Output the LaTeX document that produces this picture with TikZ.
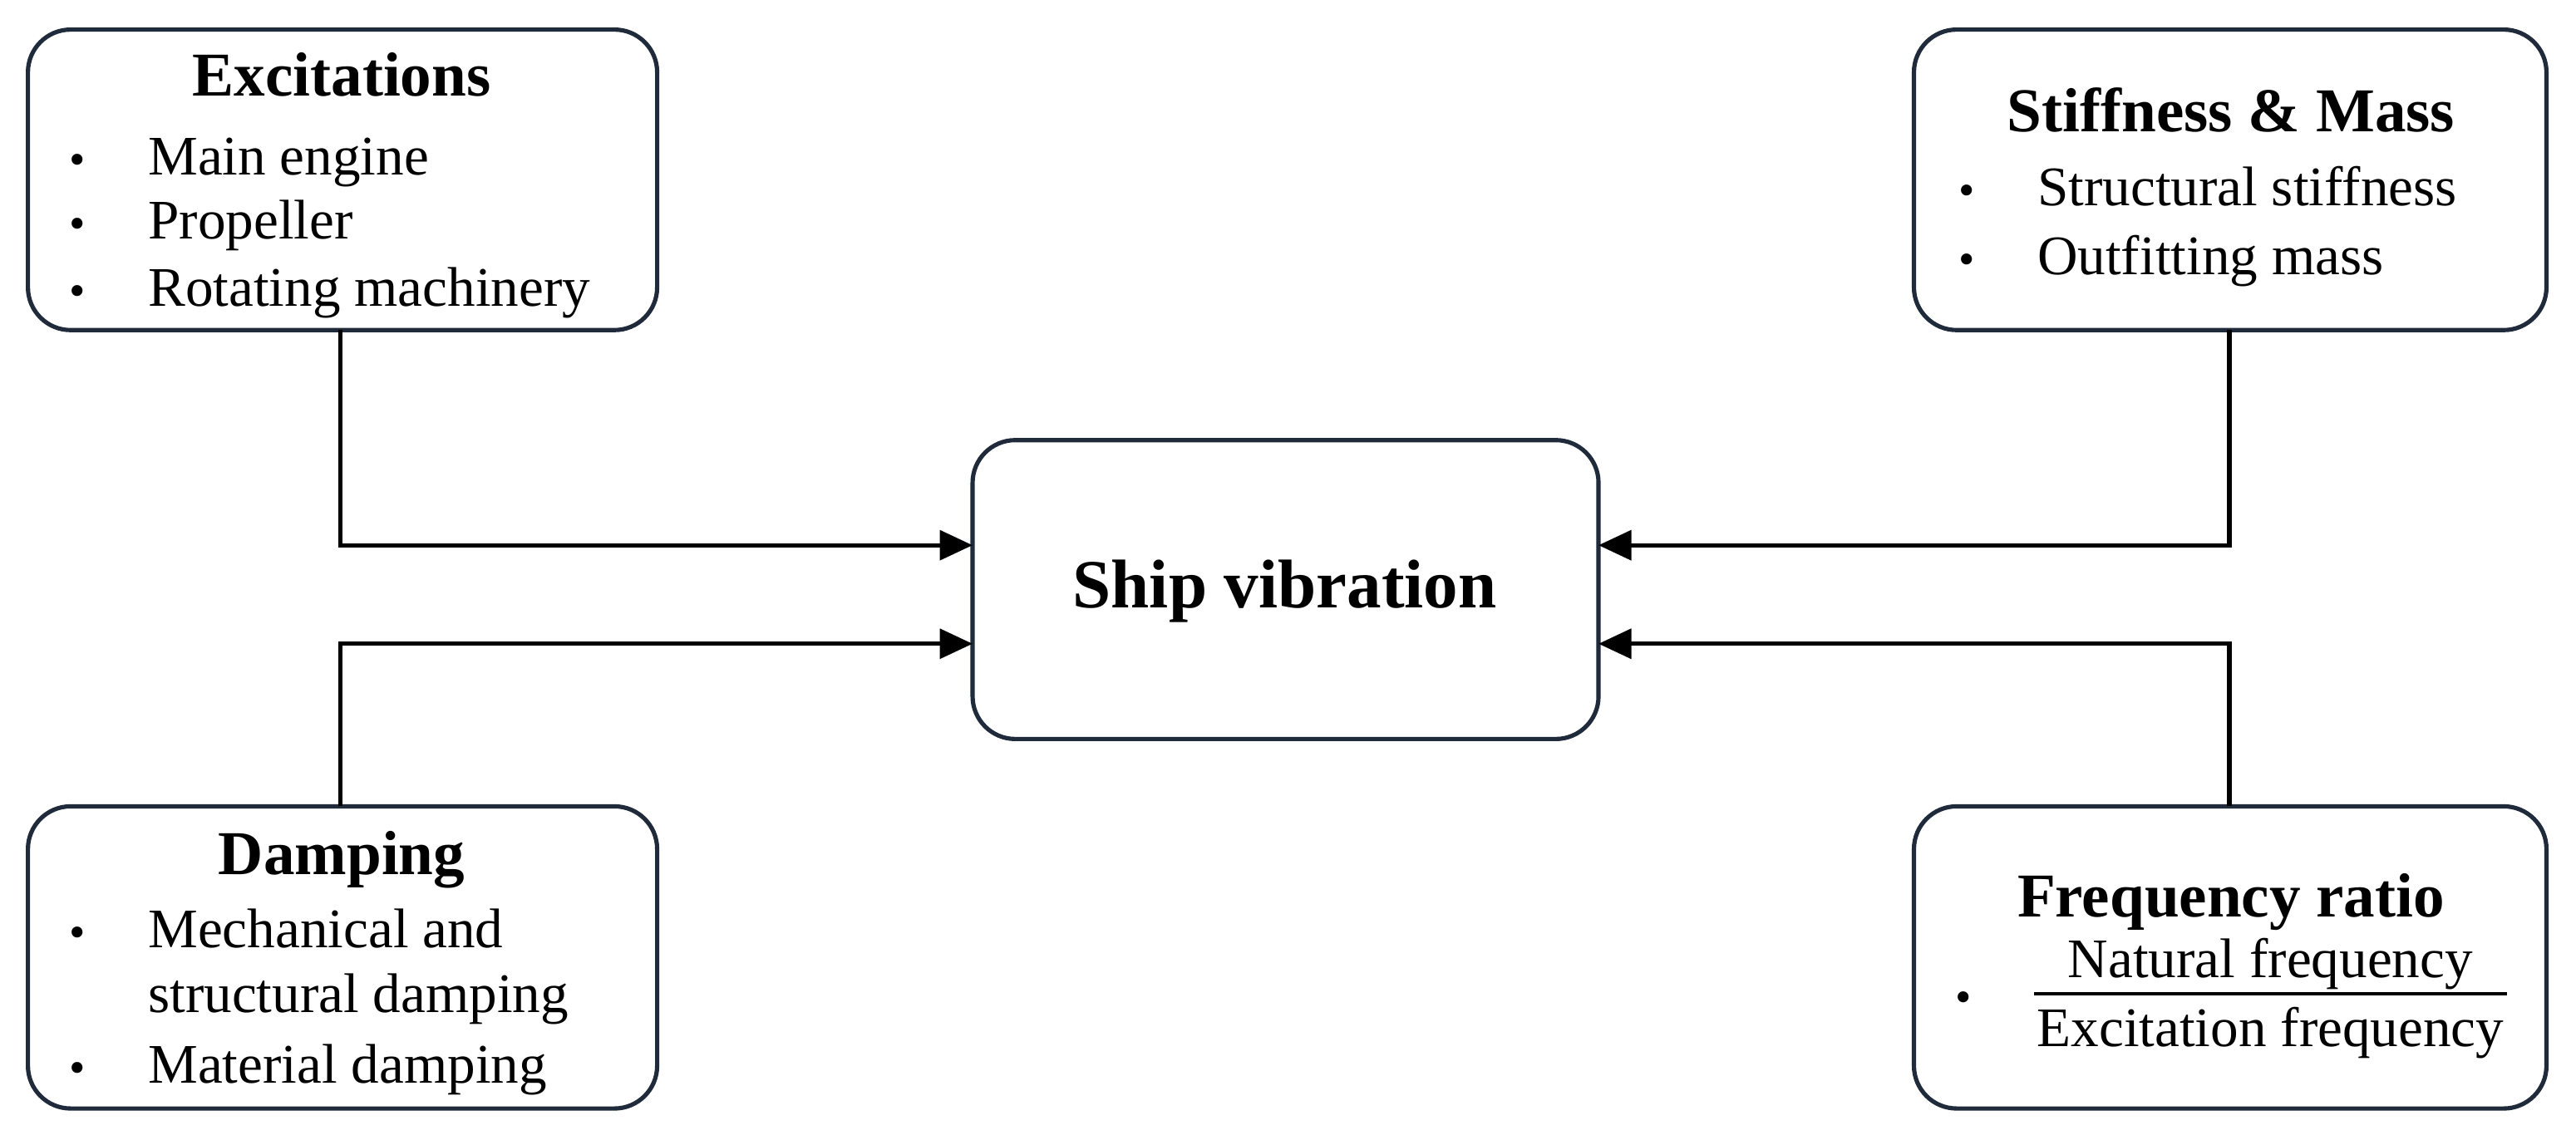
\documentclass[tikz,border=0pt]{standalone}
\usepackage{fontspec}
\setmainfont{Liberation Serif}
\usetikzlibrary{arrows.meta}
\definecolor{bordc}{HTML}{1F2A3A}
\begin{document}
\begin{tikzpicture}[x=1pt,y=-1pt,
  box/.style={draw=bordc,line width=2.6pt,rounded corners=26pt},
  ttl/.style={anchor=mid,font=\fontsize{38}{44}\selectfont\bfseries},
  itm/.style={anchor=mid west,inner sep=0pt,font=\fontsize{34}{40}\selectfont},
  bul/.style={anchor=mid,inner sep=0pt,font=\fontsize{28}{32}\selectfont},
  conn/.style={line width=2.6pt,-{Triangle[length=20pt,width=18pt]}}]
\useasboundingbox (0,0) rectangle (1568,694);
\begin{scope}[yshift=-8pt]
\end{scope}
% boxes
\draw[box] (17,18) rectangle (400,201);
\draw[box] (1165,18) rectangle (1550,201);
\draw[box] (592,268) rectangle (973,450);
\draw[box] (17,491) rectangle (400,675);
\draw[box] (1165,491) rectangle (1550,675);
\coordinate (exB) at (207,201);
\coordinate (stB) at (1357,201);
\coordinate (daT) at (207,491);
\coordinate (frT) at (1357,491);
\coordinate (cL1) at (592,332);
\coordinate (cL2) at (592,392);
\coordinate (cR1) at (973,332);
\coordinate (cR2) at (973,392);
% texts
\node[ttl] (t1) at (208,56) {Excitations};
\node[bul] (b11) at (47,104) {•}; \node[itm] (i11) at (90,104) {Main engine};
\node[bul] (b12) at (47,143) {•}; \node[itm] (i12) at (90,143) {Propeller};
\node[bul] (b13) at (47,184) {•}; \node[itm] (i13) at (90,184) {Rotating machinery};
\node[ttl] (t2) at (1358,78) {Stiffness \& Mass};
\node[bul] (b21) at (1197,123) {•}; \node[itm] (i21) at (1240,123) {Structural stiffness};
\node[bul] (b22) at (1197,165) {•}; \node[itm] (i22) at (1240,165) {Outfitting mass};
\node[anchor=mid,font=\fontsize{42}{48}\selectfont\bfseries] (c) at (782,368) {Ship vibration};
\node[ttl] (t3) at (208,530) {Damping};
\node[bul] (b31) at (47,575) {•}; \node[itm] (i31) at (90,575) {Mechanical and};
\node[itm] (i32) at (90,614) {structural damping};
\node[bul] (b33) at (47,657) {•}; \node[itm] (i33) at (90,657) {Material damping};
\node[ttl] (t4) at (1358,556) {Frequency ratio};
\node[bul] (b41) at (1195,614) {•};
\node[anchor=mid,inner sep=0pt,font=\fontsize{34}{40}\selectfont] (fn) at (1382,593) {Natural frequency};
\node[anchor=mid,inner sep=0pt,font=\fontsize{34}{40}\selectfont] (fe) at (1382,635) {Excitation frequency};
\draw[line width=1.8pt] (1238,605) -- (1526,605);
% connectors
\draw[conn] (exB) |- (cL1);
\draw[conn] (daT) |- (cL2);
\draw[conn] (stB) |- (cR1);
\draw[conn] (frT) |- (cR2);
\end{tikzpicture}
\end{document}
